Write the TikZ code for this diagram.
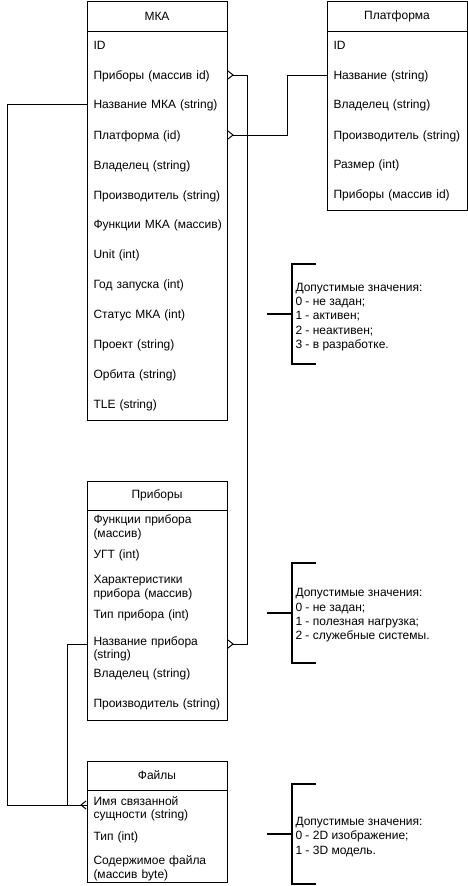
\documentclass[tikz,border=0pt]{standalone}
\usepackage{fontspec}
\setmainfont{Liberation Sans}
\usetikzlibrary{arrows.meta}

\begin{document}
\begin{tikzpicture}
  [x=1pt,y=-1pt,line width=1pt,
   every node/.style={font=\fontsize{12}{13.5}\selectfont},
   row/.style={text width=127pt,inner xsep=6.5pt,inner ysep=0pt,align=left},
   one/.style={row,text height=9pt,text depth=0pt},
   head/.style={minimum width=140pt,minimum height=30pt,inner sep=0pt},
   note/.style={anchor=west,align=left,inner sep=0pt,font=\fontsize{12}{14.3}\selectfont},
   bracket/.style={line width=2pt},
   foot/.tip={Straight Barb[reversed,length=5pt,width=8pt]}]
  \useasboundingbox (0,0) rectangle (468,886);

  % tables
  \draw (87,1) rectangle (227,420) (87,31) -- (227,31);
  \draw (327,1) rectangle (467,210) (327,31) -- (467,31);
  \draw (87,481) rectangle (227,720) (87,510) -- (227,510);
  \draw (87,761) rectangle (227,882) (87,790) -- (227,790);

  \node[head] (mka) at (157,16) {МКА};
  \node[head] (plat) at (397,16) {Платформа};
  \node[head] (prib) at (157,495) {Приборы};
  \node[head] (files) at (157,775) {Файлы};

  \foreach \n/\y/\t in {id/45/ID, prib/75/{Приборы (массив id)}, name/104/{Название МКА (string)},
      plat/135/{Платформа (id)}, own/165/{Владелец (string)}, make/195/{Производитель (string)},
      func/224/{\mbox{Функции МКА (массив)}}, unit/254/{Unit (int)}, year/284/{Год запуска (int)},
      stat/314/{Статус МКА (int)}, proj/344/{Проект (string)}, orb/374/{Орбита (string)},
      tle/404/{TLE (string)}}
    \node[one] (mka-\n) at (157,\y) {\t};

  \foreach \n/\y/\t in {id/45/ID, name/75/{Название (string)}, own/104/{Владелец (string)},
      make/135/{Производитель (string)}, size/164/{Размер (int)}, prib/194/{Приборы (массив id)}}
    \node[one] (plat-\n) at (397,\y) {\t};

  \foreach \n/\y/\t in {ugt/554/{УГТ (int)}, type/614/{Тип прибора (int)},
      own/673/{Владелец (string)}, make/703/{Производитель (string)}}
    \node[one] (prib-\n) at (157,\y) {\t};
  \foreach \n/\y/\t in {func/527.5/{Функции прибора\\(массив)},
      char/587.5/{Характеристики\\прибора (массив)}, name/649/{Название прибора\\(string)}}
    \node[row] (prib-\n) at (157,\y) {\t};

  \node[row] (files-name) at (157,809) {Имя связанной\\сущности (string)};
  \node[one] (files-type) at (157,836) {Тип (int)};
  \node[row] (files-data) at (157,868.5) {Содержимое файла\\(массив byte)};

  % links
  \draw[foot-foot] (mka-prib.east) -- ++(20,0) |- ([yshift=5pt]prib-name.east);
  \draw[foot-] (mka-plat.east) -- ++(60,0) |- (plat-name.west);
  \draw[-foot] (mka-name.west) -- ++(-79,0) |- ([yshift=4pt]files-name.west);
  \draw ([yshift=5pt]prib-name.west) -- ++(-19,0) |- ([yshift=4pt]files-name.west);

  % value notes
  \foreach \y in {314,613,834}
    \draw[bracket] (316,\y-50) -- (292,\y-50) -- (292,\y+50) -- (316,\y+50)
      (267,\y) -- (292,\y);
  \node[note] (stat-note) at (295,317) {Допустимые значения:\\0 - не задан;\\1 - активен;\\2 - неактивен;\\3 - в разработке.};
  \node[note] (type-note) at (295,615.5) {Допустимые значения:\\0 - не задан;\\1 - полезная нагрузка;\\2 - служебные системы.};
  \node[note] (file-note) at (295,837) {Допустимые значения:\\0 - 2D изображение;\\1 - 3D модель.};
\end{tikzpicture}
\end{document}
